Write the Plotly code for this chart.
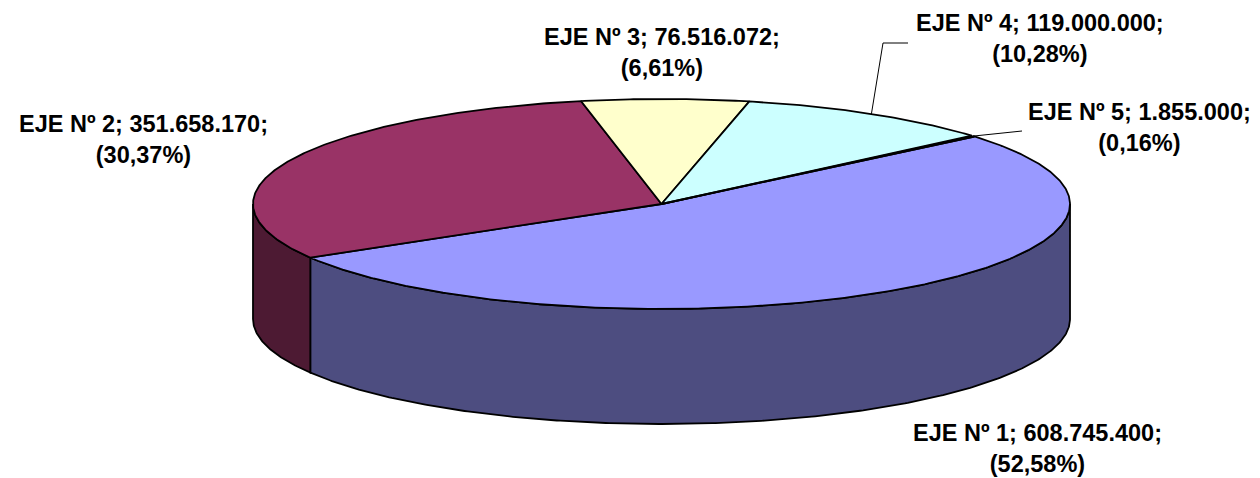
import numpy as np
import plotly.graph_objects as go

# ---- data ----
categories = ["EJE Nº 1", "EJE Nº 2", "EJE Nº 3", "EJE Nº 4", "EJE Nº 5"]
values = [608745400, 351658170, 76516072, 119000000, 1855000]
top_colors = ["#9999FF", "#993366", "#FFFFCC", "#CCFFFF", "#660066"]
side_colors = ["#4D4D80", "#4D1A33", "#80806A", "#6A8080", "#330033"]

# ---- layout / geometry parameters ----
W, H = 1260, 478
cx, cy = 661.5, 204.0     # centre of top ellipse (px)
a, b = 408.5, 105.0       # semi-axes
depth = 115.0             # thickness of the pie
first_slice_angle = 50.0  # clockwise from 12 o'clock (Excel style)

# label centres and leader elbows (layout)
label_pos = {
    0: (1037, 448),
    1: (143, 139),
    2: (662, 52),
    3: (1040, 38),
    4: (1139, 127),
}
leader_pts = {
    3: [(883, 43), (908, 43)],
    4: [(1022, 131)],
}

total = sum(values)
fracs = [v / total for v in values]


def pt(theta_deg, dz=0.0):
    t = np.radians(theta_deg)
    return cx + a * np.cos(t), cy - b * np.sin(t) + dz


def arc(t1, t2, dz=0.0, n=None):
    if n is None:
        n = max(2, int(abs(t2 - t1) * 2) + 2)
    ts = np.linspace(t1, t2, n)
    xs, ys = pt(ts, dz)
    return list(xs), list(ys)


# slice angle ranges (math degrees, going clockwise)
ranges = []
start = 90.0 - first_slice_angle
for f in fracs:
    end = start - 360.0 * f
    ranges.append((start, end))
    start = end

fig = go.Figure()

# ---- side walls (front / lower half only) ----
for i, (s, e) in enumerate(ranges):
    lo, hi = e, s
    for k in range(-2, 3):
        hlo, hhi = -180.0 + 360 * k, 0.0 + 360 * k
        ilo, ihi = max(lo, hlo), min(hi, hhi)
        if ihi - ilo > 1e-6:
            tx, ty = arc(ihi, ilo)
            bx, by = arc(ilo, ihi, dz=depth)
            xs = tx + bx + [tx[0]]
            ys = ty + by + [ty[0]]
            fig.add_trace(go.Scatter(
                x=xs, y=ys, mode="lines", fill="toself",
                fillcolor=side_colors[i],
                line=dict(color="black", width=1.8),
                hoverinfo="skip", showlegend=False))

# ---- top faces ----
for i, (s, e) in enumerate(ranges):
    ax_, ay_ = arc(s, e)
    xs = [cx] + ax_ + [cx]
    ys = [cy] + ay_ + [cy]
    fig.add_trace(go.Scatter(
        x=xs, y=ys, mode="lines", fill="toself",
        fillcolor=top_colors[i],
        line=dict(color="black", width=1.8),
        hoverinfo="skip", showlegend=False))

# ---- leader lines ----
for i, pts in leader_pts.items():
    s, e = ranges[i]
    mx, my = pt((s + e) / 2.0)
    xs = [mx] + [p[0] for p in pts]
    ys = [my] + [p[1] for p in pts]
    fig.add_trace(go.Scatter(
        x=xs, y=ys, mode="lines",
        line=dict(color="black", width=1),
        hoverinfo="skip", showlegend=False))

# ---- labels ----
def fmt_int(v):
    return f"{v:,}".replace(",", ".")


def fmt_pct(p):
    return f"{p * 100:.2f}".replace(".", ",")


for i, name in enumerate(categories):
    x, y = label_pos[i]
    txt = f"<b>{name}; {fmt_int(values[i])};<br>({fmt_pct(fracs[i])}%)</b>"
    fig.add_annotation(
        x=x, y=y, xref="x", yref="y", text=txt, showarrow=False,
        xanchor="center", yanchor="middle", align="center",
        font=dict(family="Arial, Liberation Sans, sans-serif", size=23.5, color="black"))

fig.update_layout(
    width=W, height=H,
    margin=dict(l=0, r=0, t=0, b=0),
    paper_bgcolor="white", plot_bgcolor="white",
    xaxis=dict(range=[0, W], visible=False, fixedrange=True),
    yaxis=dict(range=[H, 0], visible=False, fixedrange=True),
    showlegend=False,
)

fig.write_html("out.html", config={"displayModeBar": False})

# remove default page margin so the figure sits at the window's top-left
with open("out.html", "r", encoding="utf-8") as fh:
    html = fh.read()
html = html.replace("<head>", "<head><style>html,body{margin:0;padding:0;overflow:hidden;}</style>", 1)
with open("out.html", "w", encoding="utf-8") as fh:
    fh.write(html)
